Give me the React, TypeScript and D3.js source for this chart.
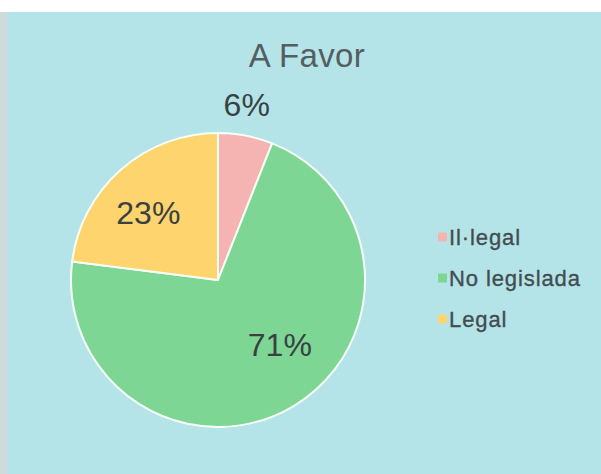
import { useEffect, useRef } from "react";
import * as d3 from "d3";

const categories = ["Il·legal", "No legislada", "Legal"];
const values = [6, 71, 23];
const labels = ["6%", "71%", "23%"];
const colors = ["#f5b4b1", "#7dd694", "#fdd46e"];
const title = "A Favor";

const WIDTH = 601;
const HEIGHT = 474;
const CENTER = { x: 218, y: 280 };
const RADIUS = 147;
// label placement: radius factor, angle shift (deg)
const LABEL_POS = [
  { r: 1.21, shift: -1.5 },
  { r: 0.61, shift: -13 },
  { r: 0.66, shift: -4.5 },
];

export default function App() {
  const svgRef = useRef<SVGSVGElement>(null);

  useEffect(() => {
    if (!svgRef.current) return;
    const svg = d3.select(svgRef.current);
    svg.selectAll("*").remove();

    // frame
    svg.append("rect").attr("width", WIDTH).attr("height", HEIGHT).attr("fill", "#ffffff");
    svg.append("rect").attr("x", 0).attr("y", 12).attr("width", 7).attr("height", HEIGHT - 12).attr("fill", "#cfdadb");
    svg.append("rect").attr("x", 7).attr("y", 12).attr("width", WIDTH - 7).attr("height", HEIGHT - 12).attr("fill", "#b4e4e8");

    // title
    svg
      .append("text")
      .attr("x", 307)
      .attr("y", 67)
      .attr("text-anchor", "middle")
      .attr("font-family", "Liberation Sans, Arial, sans-serif")
      .attr("font-size", 33)
      .attr("letter-spacing", 0.4)
      .attr("fill", "#545d60")
      .text(title);

    const data = categories.map((c, i) => ({ name: c, value: values[i], label: labels[i], color: colors[i] }));

    const pie = d3
      .pie<(typeof data)[number]>()
      .value((d) => d.value)
      .sort(null)
      .startAngle(0)
      .endAngle(2 * Math.PI);
    const arcs = pie(data);

    const arc = d3.arc<d3.PieArcDatum<(typeof data)[number]>>().innerRadius(0).outerRadius(RADIUS);

    const g = svg.append("g").attr("transform", `translate(${CENTER.x},${CENTER.y})`);

    g.selectAll("path")
      .data(arcs)
      .join("path")
      .attr("d", arc)
      .attr("fill", (d) => d.data.color)
      .attr("stroke", "#f6fff6")
      .attr("stroke-width", 2)
      .attr("stroke-linejoin", "round");

    g.selectAll("text.lbl")
      .data(arcs)
      .join("text")
      .attr("class", "lbl")
      .attr("transform", (d, i) => {
        const a = (d.startAngle + d.endAngle) / 2 + (LABEL_POS[i].shift * Math.PI) / 180;
        const r = RADIUS * LABEL_POS[i].r;
        return `translate(${r * Math.sin(a)},${-r * Math.cos(a)})`;
      })
      .attr("text-anchor", "middle")
      .attr("dy", "0.36em")
      .attr("font-family", "Liberation Sans, Arial, sans-serif")
      .attr("font-size", 32)
      .attr("fill", "#3a4143")
      .text((d) => d.data.label);

    // legend
    const legendY = d3.scalePoint<string>().domain(categories).range([237, 319]);
    const legend = svg
      .append("g")
      .selectAll("g")
      .data(data)
      .join("g")
      .attr("transform", (d) => `translate(438,${legendY(d.name)})`);

    legend
      .append("rect")
      .attr("x", 0)
      .attr("y", -4.5)
      .attr("width", 9)
      .attr("height", 9)
      .attr("fill", (d) => d.color);

    legend
      .append("text")
      .attr("x", 11)
      .attr("y", 0)
      .attr("dy", "0.36em")
      .attr("font-family", "Liberation Sans, Arial, sans-serif")
      .attr("font-size", 22)
      .attr("letter-spacing", 0.9)
      .attr("fill", "#434d50")
      .attr("stroke", "#434d50")
      .attr("stroke-width", 0.35)
      .text((d) => d.name);
  }, []);

  return (
    <svg
      ref={svgRef}
      width={WIDTH}
      height={HEIGHT}
      style={{ position: "absolute", left: 0, top: 0, display: "block" }}
    />
  );
}
